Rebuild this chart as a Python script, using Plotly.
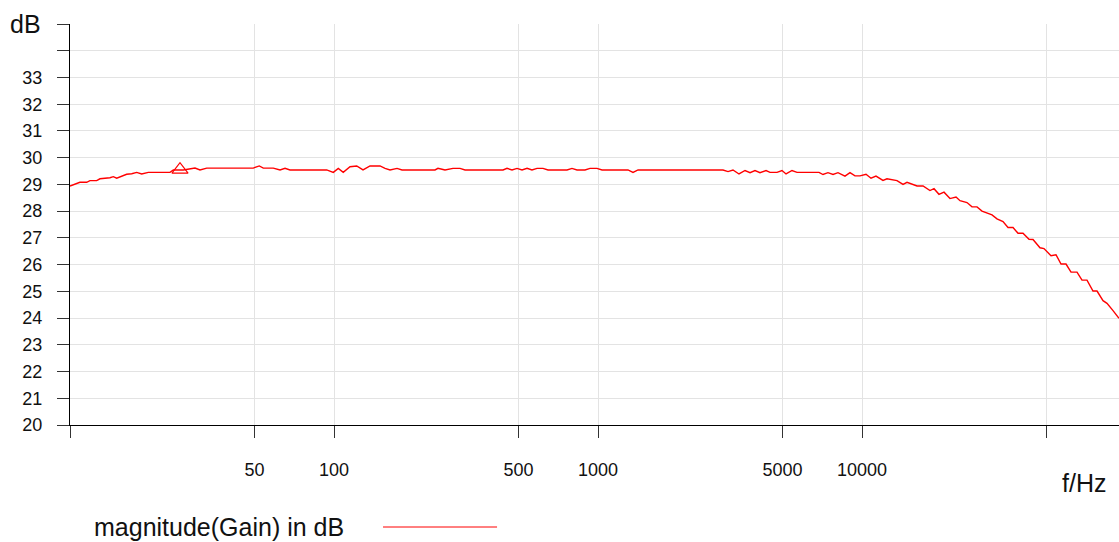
import plotly.graph_objects as go

freq_hz = [
    10.0, 10.9, 11.57, 11.9, 12.62, 12.99, 14.17, 14.59, 15.03, 16.39, 17.13,
    17.89, 18.69, 19.8, 23.92, 24.62, 26.87, 29.75, 31.08, 32.95, 49.45, 52.12,
    53.98, 58.9, 62.45, 65.23, 68.13, 93.83, 99.38, 103.8, 108.4, 115.0, 121.9,
    128.8, 136.9, 149.4, 156.1, 163.0, 173.3, 181.0, 241.3, 247.7, 263.3, 282.3,
    300.2, 313.6, 436.8, 452.2, 472.4, 493.5, 515.5, 538.5, 562.3, 587.5, 619.1,
    646.7, 763.1, 797.1, 832.7, 892.9, 932.7, 991.3, 1036, 1299, 1357, 1418,
    2975, 3108, 3246, 3421, 3605, 3767, 3933, 4109, 4330, 4482, 4764, 4977,
    5155, 5431, 5674, 6872, 7117, 7433, 7767, 8111, 8620, 9006, 9408, 9826,
    10356, 10818, 11298, 12008, 12435, 13570, 14300, 14810, 16160, 17030,
    18090, 18740, 19570, 20450, 21540, 22710, 23510, 24990, 26100, 27270,
    28480, 31080, 32460, 34210, 35730, 37330, 38990, 40720, 42920, 44440,
    47230, 48910, 51990, 54300, 56740, 59260, 61910, 65230, 68130, 71170,
    74990, 77670, 81850, 84730, 89310, 94080,
]
gain_db = [
    28.94, 29.08, 29.08, 29.14, 29.14, 29.21, 29.25, 29.29, 29.23, 29.38, 29.40,
    29.45, 29.39, 29.45, 29.45, 29.54, 29.54, 29.61, 29.54, 29.61, 29.61, 29.69,
    29.61, 29.61, 29.54, 29.60, 29.54, 29.54, 29.45, 29.60, 29.45, 29.66, 29.69,
    29.54, 29.69, 29.69, 29.60, 29.54, 29.60, 29.54, 29.54, 29.60, 29.54, 29.60,
    29.60, 29.54, 29.54, 29.60, 29.54, 29.60, 29.54, 29.60, 29.54, 29.60, 29.60,
    29.54, 29.54, 29.60, 29.54, 29.54, 29.60, 29.60, 29.54, 29.54, 29.45, 29.54,
    29.54, 29.48, 29.54, 29.39, 29.52, 29.44, 29.52, 29.44, 29.52, 29.45, 29.45,
    29.52, 29.39, 29.52, 29.45, 29.45, 29.37, 29.44, 29.37, 29.44, 29.31, 29.44,
    29.32, 29.32, 29.38, 29.23, 29.31, 29.15, 29.21, 29.14, 29.00, 29.08, 28.94,
    28.94, 28.77, 28.84, 28.63, 28.71, 28.47, 28.53, 28.39, 28.32, 28.16, 28.16,
    28.00, 27.86, 27.71, 27.61, 27.39, 27.39, 27.17, 27.17, 26.95, 26.94, 26.63,
    26.60, 26.33, 26.37, 26.02, 26.02, 25.72, 25.72, 25.42, 25.42, 25.01, 25.01,
    24.65, 24.55, 24.28, 23.99,
]

# Cursor marker (triangle)
marker_freq = [26.1]
marker_db = [29.55]

# Axis ticks
x_tick_vals = [10, 50, 100, 500, 1000, 5000, 10000, 50000]
x_tick_text = ["", "50", "100", "500", "1000", "5000", "10000", ""]
y_tick_vals = list(range(20, 36))
y_tick_text = [str(v) for v in range(20, 34)] + ["", ""]

FONT = "Liberation Sans, Arial, sans-serif"
RED = "#ff0000"

fig = go.Figure()

fig.add_trace(go.Scatter(
    x=freq_hz, y=gain_db, mode="lines",
    line=dict(color=RED, width=1.4),
    name="magnitude(Gain) in dB",
))

fig.add_trace(go.Scatter(
    x=marker_freq, y=marker_db, mode="markers",
    marker=dict(symbol="triangle-up-open", size=14, color=RED,
                line=dict(color=RED, width=1.2)),
    showlegend=False,
))

fig.update_layout(
    width=1119, height=542,
    margin=dict(l=70, r=0, t=24, b=117),
    paper_bgcolor="white", plot_bgcolor="white",
    showlegend=False,
    font=dict(family=FONT, color="#111111"),
    xaxis=dict(
        type="log", range=[1, 4.9735],
        tickvals=x_tick_vals, ticktext=x_tick_text,
        ticks="outside", ticklen=12, tickcolor="#333333", tickwidth=1,
        showline=True, linecolor="black", linewidth=1.2,
        showgrid=True, gridcolor="#e3e3e3", gridwidth=1,
        zeroline=False, tickfont=dict(size=18, family=FONT),
        ticklabelstandoff=16,
    ),
    yaxis=dict(
        range=[20, 35],
        tickvals=y_tick_vals, ticktext=y_tick_text,
        ticks="outside", ticklen=12, tickcolor="#333333", tickwidth=1,
        showline=True, linecolor="black", linewidth=1.2,
        showgrid=True, gridcolor="#e3e3e3", gridwidth=1,
        zeroline=False, tickfont=dict(size=18, family=FONT),
        ticklabelstandoff=11,
    ),
)

# Axis unit labels
fig.add_annotation(x=0, y=1, xref="paper", yref="paper", text="dB",
                   showarrow=False, xanchor="right", yanchor="middle",
                   xshift=-27, font=dict(size=25, family=FONT, color="#111111"))
fig.add_annotation(x=1, y=0, xref="paper", yref="paper", text="f/Hz",
                   showarrow=False, xanchor="right", yanchor="middle",
                   xshift=-11, yshift=-58,
                   font=dict(size=25, family=FONT, color="#111111"))

# Legend: text followed by a line sample
fig.add_annotation(x=0, y=0, xref="paper", yref="paper",
                   text="magnitude(Gain) in dB",
                   showarrow=False, xanchor="left", yanchor="middle",
                   xshift=22, yshift=-102,
                   font=dict(size=25, family=FONT, color="#111111"))
fig.add_shape(type="line", xref="paper", yref="paper",
              x0=0.2984, x1=0.4071, y0=-0.2544, y1=-0.2544,
              line=dict(color=RED, width=1))

# drop the default page margin so the figure fills the window exactly
fig.write_html("out.html",
               config={"displayModeBar": False},
               post_script="document.body.style.margin='0';"
                           "document.body.style.overflow='hidden';")
